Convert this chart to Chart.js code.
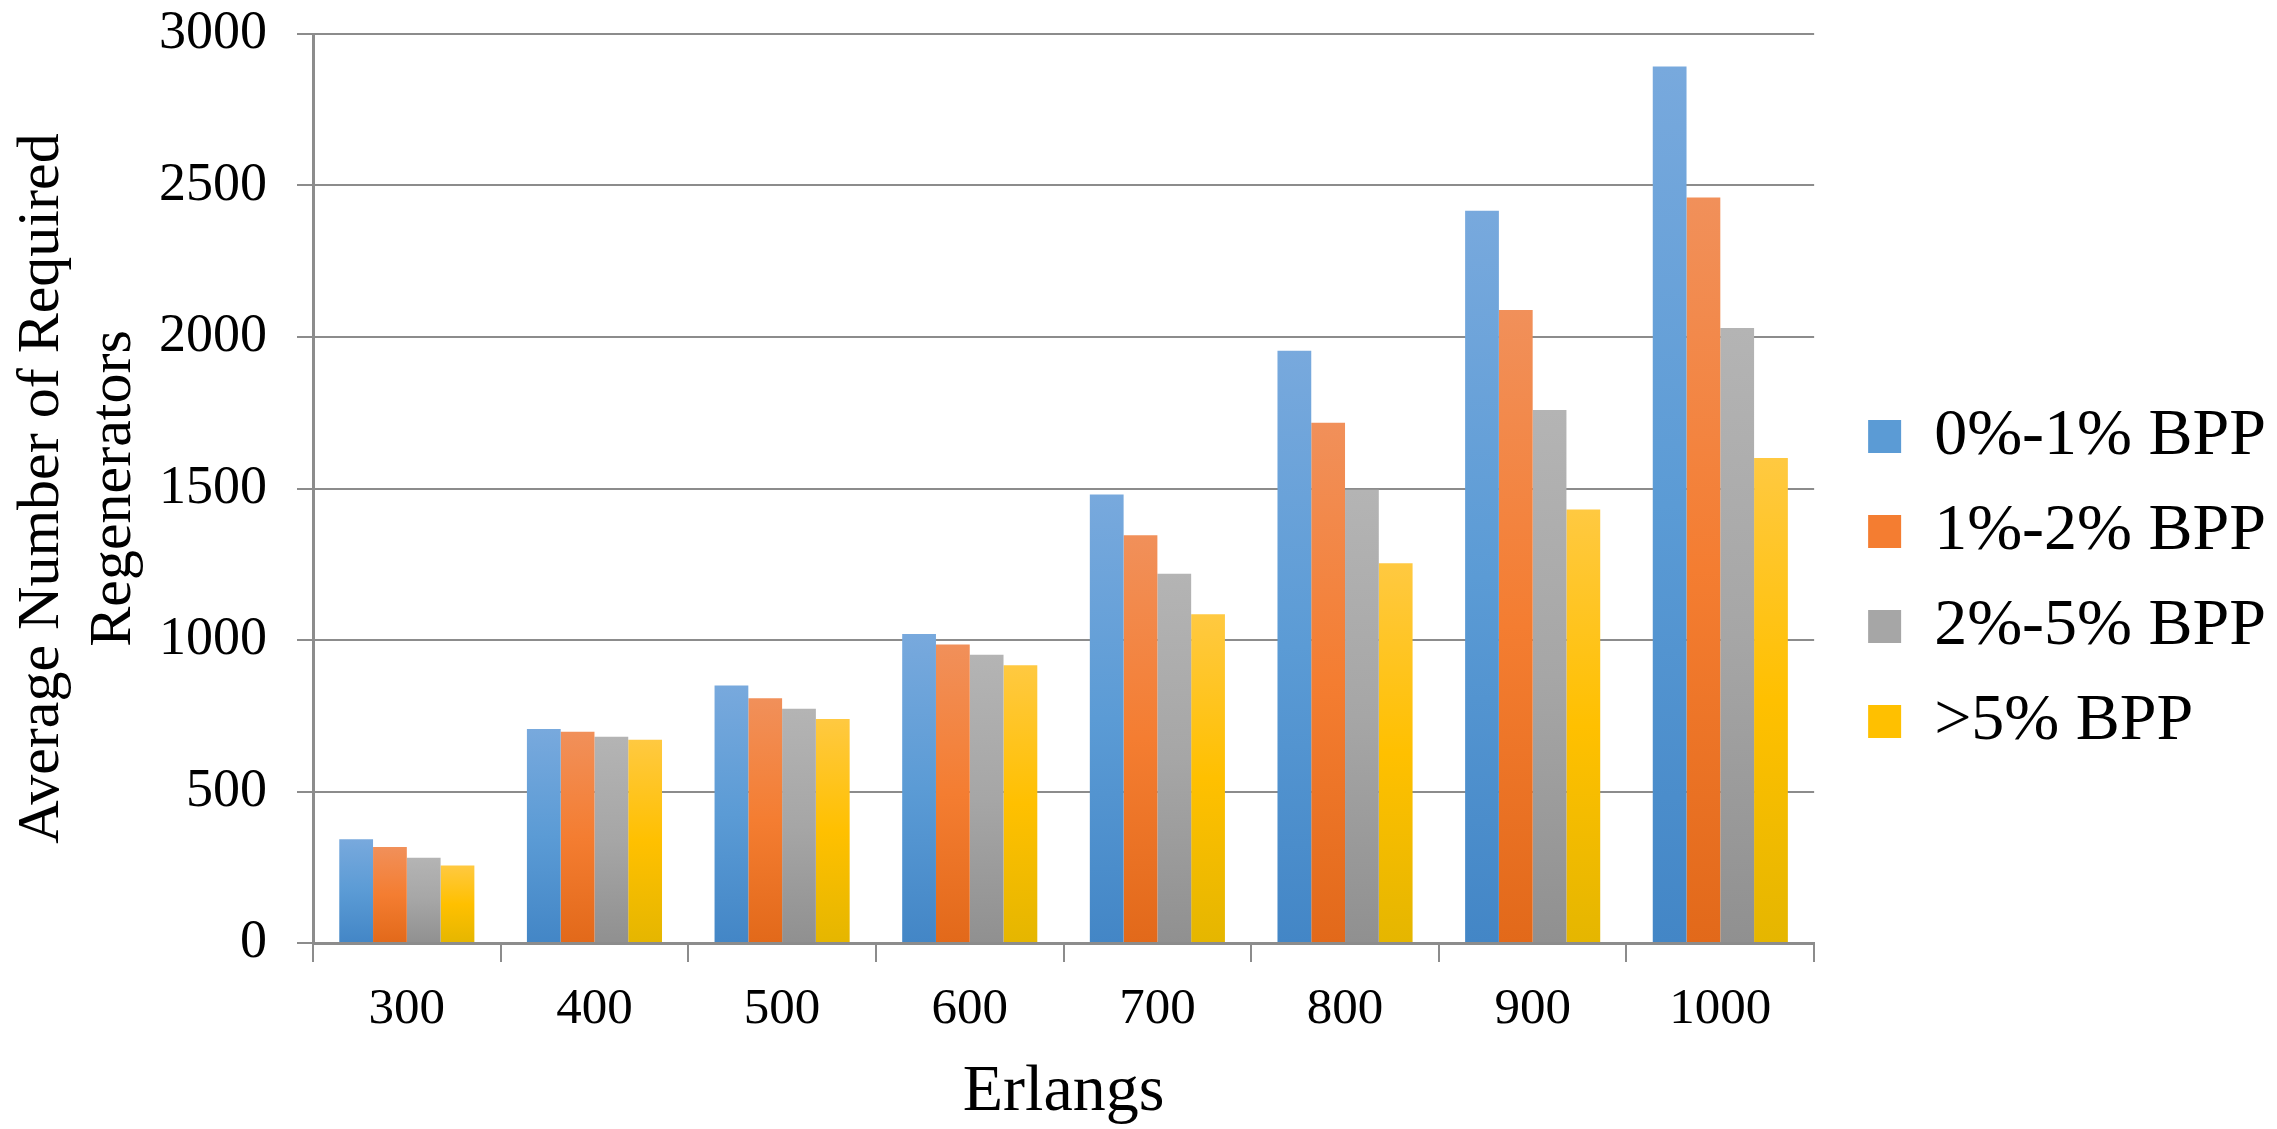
<!DOCTYPE html>
<html>
<head>
<meta charset="utf-8">
<title>Average Number of Required Regenerators</title>
<script src="https://cdn.jsdelivr.net/npm/chart.js@4.4.1/dist/chart.umd.min.js"></script>
<style>
    html, body { margin: 0; padding: 0; background: #ffffff; }
    #wrap { width: 2277px; height: 1129px; position: relative; }
</style>
</head>
<body>
<div id="wrap"><canvas id="regenChart"></canvas></div>
<script>
// Data
const categories = ['300', '400', '500', '600', '700', '800', '900', '1000'];
const bpp0to1 = [342, 706, 850, 1020, 1480, 1955, 2417, 2893];
const bpp1to2 = [317, 697, 808, 985, 1346, 1717, 2089, 2460];
const bpp2to5 = [281, 681, 773, 951, 1219, 1496, 1759, 2030];
const bppOver5 = [256, 671, 739, 917, 1085, 1253, 1431, 1601];
const seriesLabels = ['0%-1% BPP', '1%-2% BPP', '2%-5% BPP', '>5% BPP'];
const yTicks = [0, 500, 1000, 1500, 2000, 2500, 3000];

// light / base / dark stops of the office style gradient
const seriesColors = [
    ['#78a9dd', '#5b9bd5', '#4386c6'],
    ['#f1905a', '#f47d31', '#e2691a'],
    ['#b4b4b4', '#a6a6a6', '#909090'],
    ['#ffc941', '#ffc000', '#e5b600']
];

const FONT = "'Liberation Serif', 'Times New Roman', serif";
const GRID = '#8c8c8c';

function barGradient(stops) {
    return function (ctx) {
        const chart = ctx.chart;
        if (!chart.chartArea || ctx.type !== 'data') return stops[1];
        const y = chart.scales.y;
        const top = y.getPixelForValue(ctx.raw);
        const bottom = y.getPixelForValue(0);
        if (!isFinite(top) || bottom - top < 1) return stops[1];
        const g = chart.ctx.createLinearGradient(0, top, 0, bottom);
        g.addColorStop(0, stops[0]);
        g.addColorStop(0.5, stops[1]);
        g.addColorStop(1, stops[2]);
        return g;
    };
}

const seriesValues = [bpp0to1, bpp1to2, bpp2to5, bppOver5];
const datasets = seriesValues.map((vals, i) => ({
    label: seriesLabels[i],
    data: vals,
    backgroundColor: barGradient(seriesColors[i]),
    borderWidth: 0,
    categoryPercentage: 0.72,
    barPercentage: 1.0
}));

const ctx = document.getElementById('regenChart').getContext('2d');
new Chart(ctx, {
    type: 'bar',
    data: { labels: categories, datasets: datasets },
    options: {
        responsive: true,
        maintainAspectRatio: false,
        devicePixelRatio: 1,
        animation: false,
        layout: { padding: { top: 34, bottom: 5, left: 0, right: 1 } },
        plugins: {
            tooltip: { enabled: false },
            legend: {
                position: 'right',
                align: 'center',
                maxWidth: 700,
                labels: {
                    boxWidth: 33,
                    boxHeight: 33,
                    padding: 29,
                    color: '#000',
                    font: { family: FONT, size: 66 },
                    generateLabels(chart) {
                        const items = Chart.defaults.plugins.legend.labels.generateLabels(chart);
                        items.forEach((it, i) => {
                            it.fillStyle = seriesColors[i][1];
                            it.strokeStyle = 'rgba(0,0,0,0)';
                            it.lineWidth = 0;
                        });
                        return items;
                    }
                }
            }
        },
        scales: {
            x: {
                type: 'category',
                offset: true,
                grid: {
                    offset: true,
                    drawOnChartArea: false,
                    drawTicks: true,
                    tickLength: 19,
                    color: GRID,
                    lineWidth: 2
                },
                border: { display: true, color: GRID, width: 3 },
                ticks: {
                    color: '#000',
                    font: { family: FONT, size: 51 },
                    padding: 17,
                    maxRotation: 0,
                    autoSkip: false
                },
                title: {
                    display: true,
                    text: 'Erlangs',
                    color: '#000',
                    font: { family: FONT, size: 66, lineHeight: 0.94 },
                    padding: 0
                },
                afterFit: s => {
                    s.height = 181;
                    s.paddingLeft = 0;
                    s.paddingRight = 0;
                }
            },
            y: {
                min: 0,
                max: 3000,
                afterBuildTicks: s => { s.ticks = yTicks.map(v => ({ value: v })); },
                grid: {
                    color: GRID,
                    lineWidth: 2,
                    drawTicks: true,
                    tickLength: 16
                },
                border: { display: true, color: GRID, width: 3 },
                ticks: {
                    color: '#000',
                    font: { family: FONT, size: 54 },
                    padding: 30,
                    callback: v => String(v)
                },
                title: {
                    display: true,
                    text: ['Average Number of Required', 'Regenerators'],
                    color: '#000',
                    font: { family: FONT, size: 60, lineHeight: 1.2 },
                    padding: { top: 6, bottom: 0 }
                },
                afterFit: s => {
                    s.width = 313;
                    s.paddingTop = 0;
                    s.paddingBottom = 0;
                }
            },
            // empty spacer between plot and legend
            gap: {
                type: 'linear',
                position: 'right',
                display: true,
                ticks: { display: false },
                grid: { display: false, drawTicks: false },
                border: { display: false },
                afterFit: s => {
                    s.width = 25;
                    s.paddingTop = 0;
                    s.paddingBottom = 0;
                }
            }
        }
    }
});
</script>
</body>
</html>
